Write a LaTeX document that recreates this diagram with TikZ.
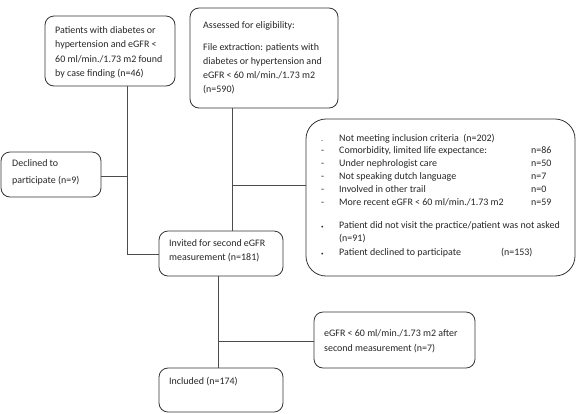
\documentclass[tikz,border=0pt]{standalone}
\usepackage{fontspec}
\setmainfont{Carlito}
\newcommand{\tb}[3]{\parbox[t]{#1}{\fontsize{10}{#2}\selectfont\raggedright #3}}
\newcommand{\itm}[1]{\leavevmode\llap{\makebox[18bp][l]{#1}}}
\begin{document}
\begin{tikzpicture}[x=1bp,y=-1bp,
  box/.style={draw=black!80, line width=0.8bp, rounded corners=9bp},
  bigbox/.style={draw=black!80, line width=0.8bp, rounded corners=20bp},
  txt/.style={anchor=base west, inner sep=0pt, text=black!85},
  link/.style={draw=black!70, line width=0.9bp}]
\useasboundingbox (0,0) rectangle (576,413);
% boxes
\node[box, minimum width=130bp, minimum height=70bp, inner sep=0pt] (b1) at (110,51) {};
\node[box, minimum width=148bp, minimum height=100bp, inner sep=0pt] (b2) at (264,58) {};
\node[box, minimum width=100bp, minimum height=45bp, inner sep=0pt] (dec) at (51,174.5) {};
\node[bigbox, minimum width=269bp, minimum height=157bp, inner sep=0pt] (big) at (440.5,197.5) {};
\node[box, minimum width=124bp, minimum height=45bp, inner sep=0pt] (inv) at (221,253.5) {};
\node[box, minimum width=161bp, minimum height=56bp, inner sep=0pt] (egfr) at (394.5,340) {};
\node[box, minimum width=124bp, minimum height=44bp, inner sep=0pt] (inc) at (221,390) {};
% texts
\node[txt] (t1) at (55,33.5) {\tb{125bp}{14.3bp}{Patients with diabetes or\\hypertension and eGFR <\\60 ml/min./1.73 m2 found\\by case finding (n=46)}};
\node[txt] (t2a) at (203,28) {\tb{140bp}{14bp}{Assessed for eligibility:}};
\node[txt] (t2) at (203,50) {\tb{140bp}{14bp}{File extraction: patients with\\diabetes or hypertension and\\eGFR < 60 ml/min./1.73 m2\\(n=590)}};
\node[txt] (t3) at (12,166) {\tb{90bp}{17.5bp}{Declined to\\participate (n=9)}};
\node[txt] (t4) at (169,246) {\tb{115bp}{14.8bp}{Invited for second eGFR\\measurement (n=181)}};
\node[txt] (t5) at (324,336) {\tb{150bp}{15bp}{eGFR < 60 ml/min./1.73 m2 after\\second measurement (n=7)}};
\node[txt] (t6) at (169,384) {\tb{115bp}{14bp}{Included (n=174)}};
% big box list
\node[txt] (l1) at (339,141) {\tb{230bp}{12.8bp}{%
\itm{\raisebox{-0.5bp}{\scalebox{0.8}{.}}}Not meeting inclusion criteria\ \ (n=202)\\
\itm{-}Comorbidity, limited life expectance:\hfill\makebox[38bp][l]{n=86}\\
\itm{-}Under nephrologist care\hfill\makebox[38bp][l]{n=50}\\
\itm{-}Not speaking dutch language\hfill\makebox[38bp][l]{n=7}\\
\itm{-}Involved in other trail\hfill\makebox[38bp][l]{n=0}\\
\itm{-}More recent eGFR < 60 ml/min./1.73 m2\hfill\makebox[38bp][l]{n=59}}};
\node[txt] (l2) at (339,228) {\tb{230bp}{13.5bp}{%
\itm{\scalebox{0.5}{•}}Patient did not visit the practice/patient was not asked\\
(n=91)\\
\itm{\scalebox{0.5}{•}}Patient declined to participate\hspace{40bp}(n=153)}};
% connectors
\coordinate (j1) at (127,254);
\coordinate (j2) at (232,185);
\coordinate (j3) at (218,341);
\draw[link] (b1.south -| j1) -- (j1) -- (inv.west |- j1);
\draw[link] (dec.east |- 0,176) -- (127,176);
\draw[link] (b2.south -| j2) -- (inv.north -| j2);
\draw[link] (j2) -- (big.west |- j2);
\draw[link] (inv.south -| j3) -- (inc.north -| j3);
\draw[link] (j3) -- (egfr.west |- j3);
\end{tikzpicture}
\end{document}
